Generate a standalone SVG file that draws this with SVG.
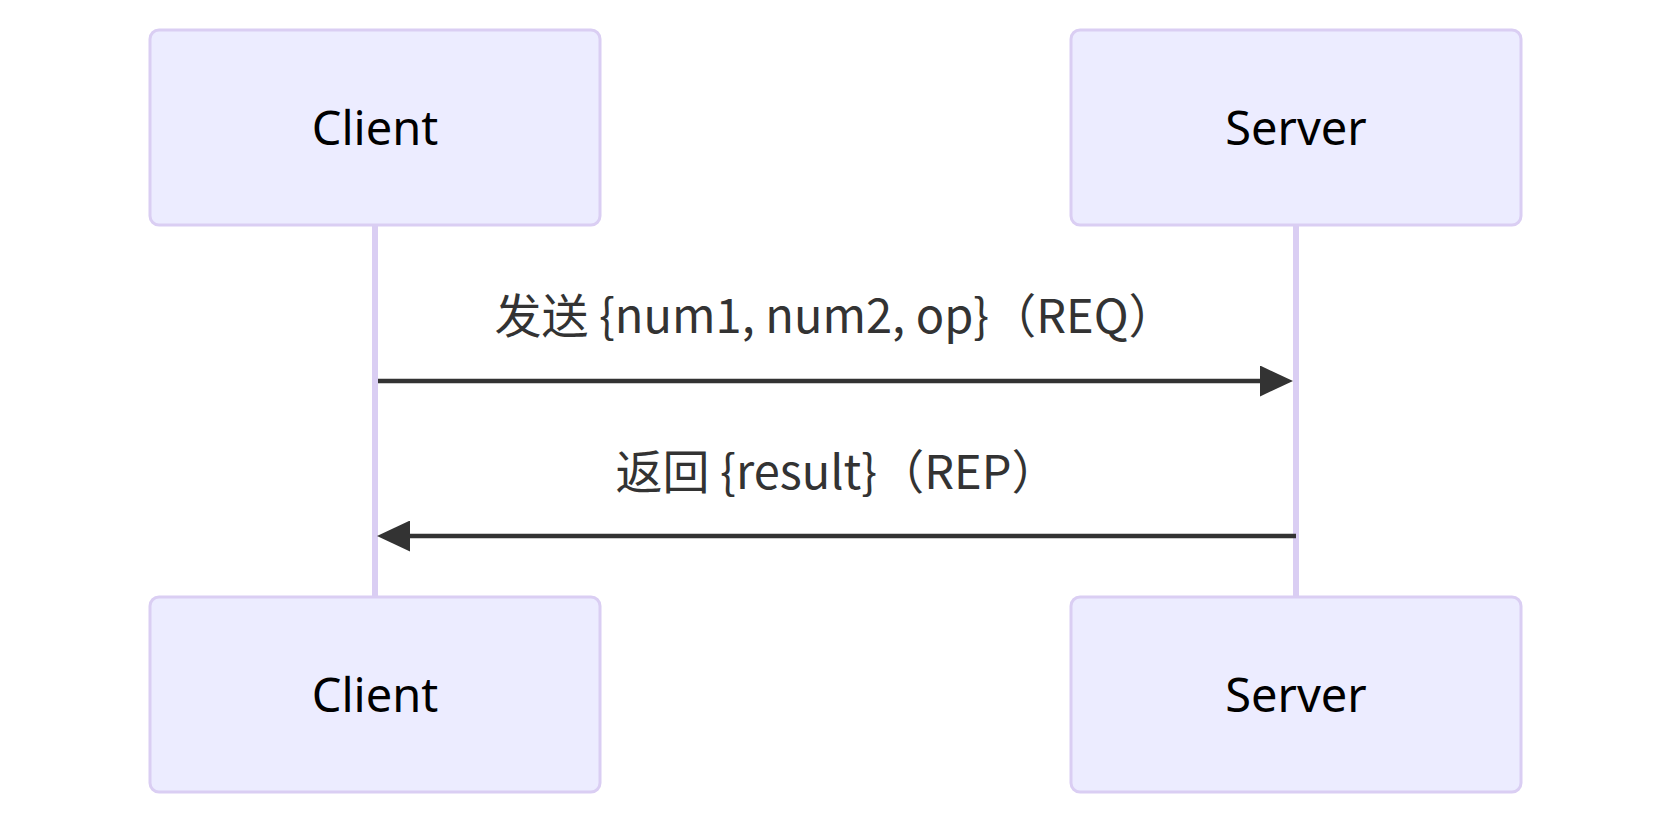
<svg xmlns="http://www.w3.org/2000/svg" width="1671" height="825" viewBox="0 0 1671 825">
  <style>
    .actor { fill: #ECECFF; stroke: #DACEF3; stroke-width: 3; }
    .actor-text { font-family: "Noto Sans", "Open Sans", sans-serif; font-size: 47px; fill: #000; text-anchor: middle; }
    .lifeline { stroke: #DACEF3; stroke-width: 6; }
    .msg { stroke: #333; stroke-width: 4.5; fill: none; marker-end: url(#arrowhead); }
    .msg-text { font-family: "Noto Sans CJK SC", "Noto Sans", sans-serif; font-size: 47px; fill: #333; text-anchor: middle; }
  </style>
  <defs>
    <marker id="arrowhead" markerUnits="userSpaceOnUse" markerWidth="33" markerHeight="31" refX="20" refY="15.5" orient="auto">
      <path d="M0,0 L33,15.5 L0,31 z" fill="#333"/>
    </marker>
  </defs>
  <rect width="1671" height="825" fill="#fff"/>
  <g id="lifelines">
    <line class="lifeline" x1="375" y1="225" x2="375" y2="597"/>
    <line class="lifeline" x1="1296" y1="225" x2="1296" y2="597"/>
  </g>
  <g id="client-top">
    <rect class="actor" x="150" y="30" width="450" height="195" rx="9" ry="9"/>
    <text class="actor-text" x="375" y="145">Client</text>
  </g>
  <g id="server-top">
    <rect class="actor" x="1071" y="30" width="450" height="195" rx="9" ry="9"/>
    <text class="actor-text" x="1296" y="145">Server</text>
  </g>
  <g id="client-bottom">
    <rect class="actor" x="150" y="597" width="450" height="195" rx="9" ry="9"/>
    <text class="actor-text" x="375" y="712">Client</text>
  </g>
  <g id="server-bottom">
    <rect class="actor" x="1071" y="597" width="450" height="195" rx="9" ry="9"/>
    <text class="actor-text" x="1296" y="712">Server</text>
  </g>
  <g id="connectors">
    <text class="msg-text" x="835" y="333">发送 {num1, num2, op}（REQ）</text>
    <line class="msg" x1="378" y1="381" x2="1280" y2="381"/>
    <text class="msg-text" x="837" y="489">返回 {result}（REP）</text>
    <line class="msg" x1="1296" y1="536" x2="390" y2="536"/>
  </g>
</svg>
